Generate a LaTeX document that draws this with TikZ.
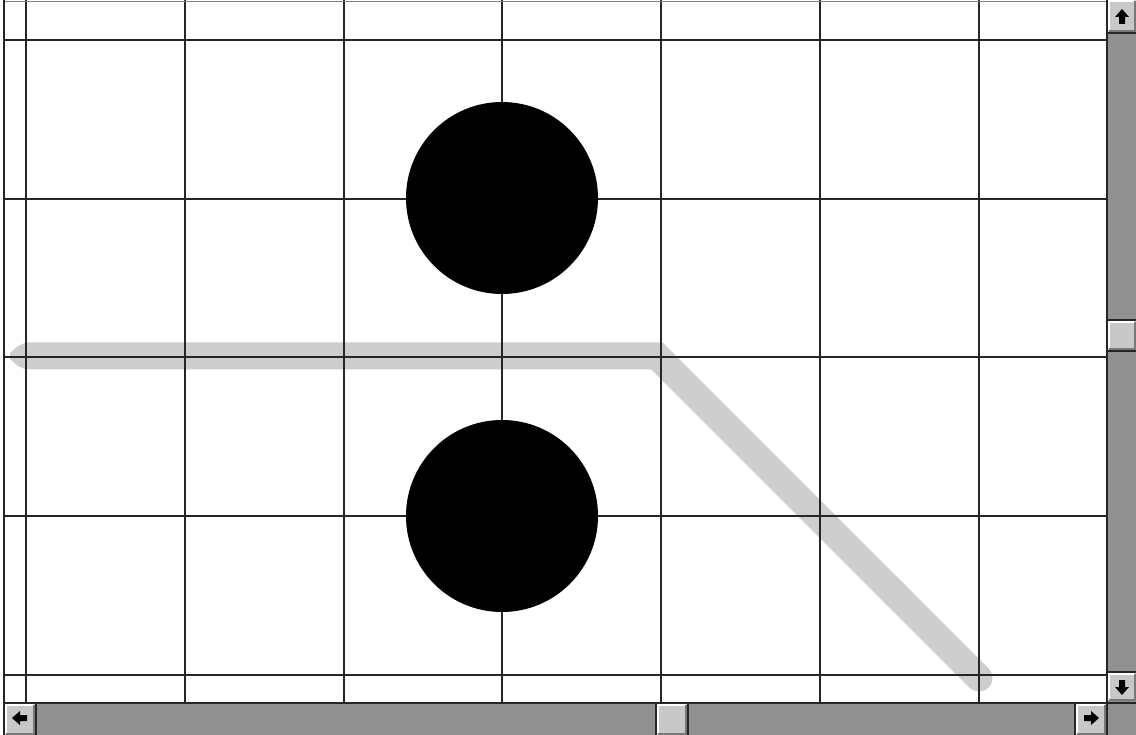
\documentclass[tikz,border=0pt]{standalone}
\definecolor{bandgray}{RGB}{205,205,205}
\definecolor{trough}{RGB}{145,145,145}
\definecolor{face}{RGB}{200,200,200}
\definecolor{btnshadow}{RGB}{120,120,120}
\newcommand{\winbtn}[4]{%
  \fill[face] (#1,#2) rectangle (#3,#4);
  \draw[white,line width=2pt] (#1+1,#4-1) -- (#1+1,#2+1) -- (#3-1,#2+1);
  \draw[btnshadow,line width=2pt] (#1+1,#4-1) -- (#3-1,#4-1) -- (#3-1,#2+1);
}
\begin{document}
\begin{tikzpicture}[x=1pt,y=-1pt,
  gridline/.style={line width=1.6pt,black!85},
  band/.style={bandgray,line width=27pt,line join=miter},
  frameline/.style={line width=2pt,black!85},
  arrowglyph/.style={fill=black}]
\useasboundingbox (0,0) rectangle (1136,735);
\fill[white] (0,0) rectangle (1136,735);
% gray band
\draw[band,line cap=butt] (25,356) -- (657,356) -- (900,599);
\draw[band,line cap=round] (890,589) -- (979,678);
\fill[bandgray] (26,342.5) -- (18,346) -- (10,353) -- (10,359) -- (18,366) -- (26,369.5) -- cycle;
% grid
\foreach \x in {26,185,344,502,661,820,979} \draw[gridline] (\x,0) -- (\x,703);
\foreach \y in {40,199,357,516,675} \draw[gridline] (4,\y) -- (1107,\y);
\draw[black!50,line width=1pt] (4,1.5) -- (1107,1.5);
% discs
\fill (502,198) circle[radius=96];
\fill (502,516) circle[radius=96];
% vertical scrollbar
\fill[trough] (1107,0) rectangle (1136,735);
\winbtn{1108}{0}{1136}{32}
\winbtn{1108}{321}{1136}{350}
\winbtn{1108}{673}{1136}{701}
\draw[frameline] (1107,33) -- (1136,33);
\draw[frameline] (1107,320) -- (1136,320);
\draw[frameline] (1107,351) -- (1136,351);
\draw[frameline] (1107,672) -- (1136,672);
% horizontal scrollbar
\fill[trough] (4,703) rectangle (1107,735);
\winbtn{5}{704}{35}{735}
\winbtn{657}{704}{687}{735}
\winbtn{1076}{704}{1106}{735}
\draw[frameline] (36,703) -- (36,735);
\draw[frameline] (656,703) -- (656,735);
\draw[frameline] (688,703) -- (688,735);
\draw[frameline] (1075,703) -- (1075,735);
\draw[frameline] (4,703) -- (1136,703);
\draw[frameline] (1107,0) -- (1107,735);
\draw[frameline] (4,0) -- (4,735);
% arrow glyphs
\fill[arrowglyph] (1122,9) -- (1129,17) -- (1125,17) -- (1125,24) -- (1119,24) -- (1119,17) -- (1115,17) -- cycle;
\fill[arrowglyph] (1122,695) -- (1129,687) -- (1125,687) -- (1125,680) -- (1119,680) -- (1119,687) -- (1115,687) -- cycle;
\fill[arrowglyph] (12,718) -- (20,711) -- (20,715) -- (27,715) -- (27,721) -- (20,721) -- (20,725) -- cycle;
\fill[arrowglyph] (1099,718) -- (1091,711) -- (1091,715) -- (1084,715) -- (1084,721) -- (1091,721) -- (1091,725) -- cycle;
\end{tikzpicture}
\end{document}
